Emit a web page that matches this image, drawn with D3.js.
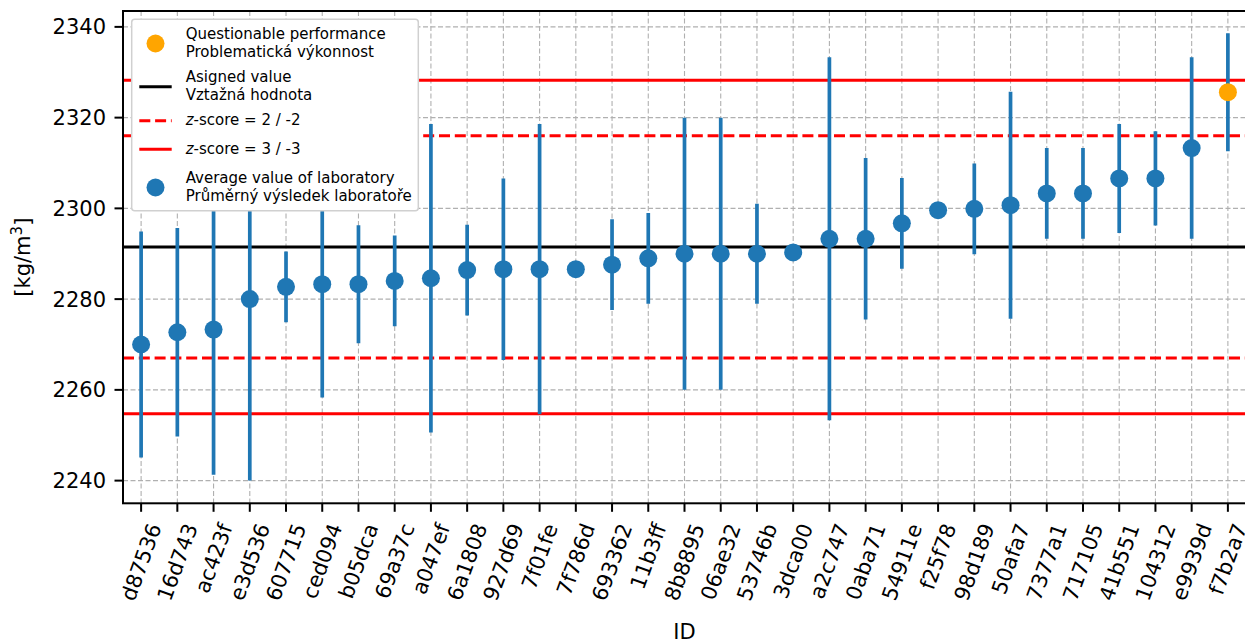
<!DOCTYPE html>
<html>
<head>
<meta charset="utf-8">
<script src="https://cdn.jsdelivr.net/npm/d3@7"></script>
<style>
  html, body { margin: 0; padding: 0; background: #fff; }
  svg { display: block; font-family: "DejaVu Sans", sans-serif; }
</style>
</head>
<body>
<svg id="chart" width="1245" height="641"></svg>
<script>
// Laboratory IDs, sorted by their average result
const ids = ["d87536","16d743","ac423f","e3d536","607715","ced094","b05dca","69a37c","a047ef","6a1808",
  "927d69","7f01fe","7f786d","693362","11b3ff","8b8895","06ae32","53746b","3dca00","a2c747",
  "0aba71","54911e","f25f78","98d189","50afa7","7377a1","717105","41b551","104312","e9939d","f7b2a7"];
// Average value of each laboratory [kg/m3]
const means = [2270.0, 2272.7, 2273.3, 2280.0, 2282.7, 2283.3, 2283.3, 2284.0, 2284.6, 2286.4,
  2286.6, 2286.6, 2286.6, 2287.6, 2289.0, 2290.0, 2290.0, 2290.0, 2290.3, 2293.3,
  2293.3, 2296.7, 2299.6, 2299.9, 2300.7, 2303.3, 2303.3, 2306.6, 2306.6, 2313.3, 2325.6];
// Expanded uncertainty (half-width of the error bar)
const uncertainties = [24.9, 23.0, 32.0, 40.0, 7.8, 25.0, 13.0, 10.0, 34.0, 10.0,
  20.0, 32.0, 0, 10.0, 10.0, 30.0, 30.0, 11.0, 0, 40.0,
  17.8, 10.0, 0, 10.0, 25.0, 10.0, 10.0, 12.0, 10.4, 20.0, 13.0];
// Assigned value and standard deviation for proficiency assessment
const assignedValue = 2291.5;
const sigmaPT = 12.25;
const yTicks = [2240, 2260, 2280, 2300, 2320, 2340];
const yDomain = [2235.0, 2343.5];

const data = ids.map((id, i) => ({
  id, mean: means[i], u: uncertainties[i],
  z: (means[i] - assignedValue) / sigmaPT
}));

const svg = d3.select("#chart");
const pL = 123, pR = 1246, pT = 11, pB = 503.3;
const blue = "#1f77b4", orange = "#ffa500";

const x = d3.scalePoint().domain(ids).range([pL, pR]).padding(0.5);
const y = d3.scaleLinear().domain(yDomain).range([pB, pT]);

// Clip region for the plot area
svg.append("defs").append("clipPath").attr("id", "plotClip")
  .append("rect").attr("x", pL).attr("y", pT).attr("width", pR - pL).attr("height", pB - pT);

// Grid
const grid = svg.append("g").attr("stroke", "#b0b0b0").attr("stroke-width", 1.1).attr("stroke-dasharray", "5,2.5");
grid.selectAll("line.gx").data(ids).join("line")
  .attr("x1", d => x(d)).attr("x2", d => x(d)).attr("y1", pT).attr("y2", pB);
grid.selectAll("line.gy").data(yTicks).join("line")
  .attr("x1", pL).attr("x2", pR).attr("y1", d => y(d)).attr("y2", d => y(d));

const plot = svg.append("g").attr("clip-path", "url(#plotClip)");

// Reference lines: assigned value and z-score limits
const refLines = [
  { v: assignedValue, color: "#000", dash: null },
  { v: assignedValue + 2 * sigmaPT, color: "#ff0000", dash: "11,4.8" },
  { v: assignedValue - 2 * sigmaPT, color: "#ff0000", dash: "11,4.8" },
  { v: assignedValue + 3 * sigmaPT, color: "#ff0000", dash: null },
  { v: assignedValue - 3 * sigmaPT, color: "#ff0000", dash: null }
];
plot.selectAll("line.ref").data(refLines).join("line")
  .attr("x1", pL).attr("x2", pR)
  .attr("y1", d => y(d.v)).attr("y2", d => y(d.v))
  .attr("stroke", d => d.color).attr("stroke-width", 3)
  .attr("stroke-dasharray", d => d.dash);

// Error bars
plot.selectAll("line.err").data(data.filter(d => d.u > 0)).join("line")
  .attr("x1", d => x(d.id)).attr("x2", d => x(d.id))
  .attr("y1", d => y(d.mean - d.u)).attr("y2", d => y(d.mean + d.u))
  .attr("stroke", blue).attr("stroke-width", 3.7);

// Laboratory averages
plot.selectAll("circle.pt").data(data).join("circle")
  .attr("cx", d => x(d.id)).attr("cy", d => y(d.mean)).attr("r", 9)
  .attr("fill", d => Math.abs(d.z) > 2 && Math.abs(d.z) <= 3 ? orange : blue);

// Spines
svg.append("rect").attr("x", pL).attr("y", pT).attr("width", pR - pL).attr("height", pB - pT)
  .attr("fill", "none").attr("stroke", "#000").attr("stroke-width", 2);

// Y axis ticks and labels
const yAxis = svg.append("g");
yAxis.selectAll("line").data(yTicks).join("line")
  .attr("x1", pL - 8.5).attr("x2", pL).attr("y1", d => y(d)).attr("y2", d => y(d))
  .attr("stroke", "#000").attr("stroke-width", 2);
yAxis.selectAll("text").data(yTicks).join("text")
  .attr("x", pL - 17).attr("y", d => y(d)).attr("dy", "0.36em")
  .attr("text-anchor", "end").attr("font-size", 21).attr("fill", "#000")
  .text(d => d);

// X axis ticks and rotated labels
const xAxis = svg.append("g");
xAxis.selectAll("line").data(ids).join("line")
  .attr("x1", d => x(d)).attr("x2", d => x(d)).attr("y1", pB).attr("y2", pB + 8.5)
  .attr("stroke", "#000").attr("stroke-width", 2);
const angle = 70 * Math.PI / 180;
const labelTop = pB + 17;
const lineH = 21 * 1.164;
xAxis.selectAll("text").data(ids).join("text")
  .attr("text-anchor", "middle").attr("dy", "0.35em")
  .attr("font-size", 21).attr("fill", "#000")
  .text(d => d)
  .each(function(d) {
    const w = this.getComputedTextLength();
    const vert = w * Math.sin(angle) + lineH * Math.cos(angle);
    d3.select(this).attr("transform", `translate(${x(d)},${labelTop + vert / 2}) rotate(-70)`);
  });

// Axis titles
svg.append("text").attr("x", (pL + pR) / 2).attr("y", 639)
  .attr("text-anchor", "middle").attr("font-size", 21).text("ID");
const yl = svg.append("text").attr("transform", `translate(30,${(pT + pB) / 2}) rotate(-90)`)
  .attr("text-anchor", "middle").attr("font-size", 21);
yl.append("tspan").text("[kg/m");
yl.append("tspan").attr("font-size", 15).attr("dy", -8).text("3");
yl.append("tspan").attr("dy", 8).text("]");

// Legend
const lg = svg.append("g");
lg.append("rect").attr("x", 131.7).attr("y", 19.3).attr("width", 286.6).attr("height", 191.4)
  .attr("rx", 3).attr("fill", "#fff").attr("stroke", "#d0d0d0").attr("stroke-width", 1.5);
const mx = 155.5, lx1 = 139.3, lx2 = 171.7, tx = 185.7;
const legendItems = [
  { kind: "dot", color: orange, my: 43.5, lines: [["Questionable performance", 39.3], ["Problematická výkonnost", 57]] },
  { kind: "line", color: "#000", my: 86.7, lines: [["Asigned value", 81.7], ["Vztažná hodnota", 100]] },
  { kind: "dash", color: "#ff0000", my: 120.7, z: "2 / -2", base: 125 },
  { kind: "line", color: "#ff0000", my: 149.3, z: "3 / -3", base: 153.5 },
  { kind: "dot", color: blue, my: 187.5, lines: [["Average value of laboratory", 183.3], ["Průměrný výsledek laboratoře", 201]] }
];
legendItems.forEach(it => {
  if (it.kind === "dot") {
    lg.append("circle").attr("cx", mx).attr("cy", it.my).attr("r", 9).attr("fill", it.color);
  } else {
    lg.append("line").attr("x1", lx1).attr("x2", lx2).attr("y1", it.my).attr("y2", it.my)
      .attr("stroke", it.color).attr("stroke-width", 3)
      .attr("stroke-dasharray", it.kind === "dash" ? "11,4.8" : null);
  }
  if (it.lines) {
    it.lines.forEach(([s, b]) => {
      lg.append("text").attr("x", tx).attr("y", b).attr("font-size", 15).text(s);
    });
  } else {
    const t = lg.append("text").attr("x", tx).attr("y", it.base).attr("font-size", 15);
    t.append("tspan").attr("font-style", "italic").text("z");
    t.append("tspan").text("-score = " + it.z);
  }
});
</script>
</body>
</html>
